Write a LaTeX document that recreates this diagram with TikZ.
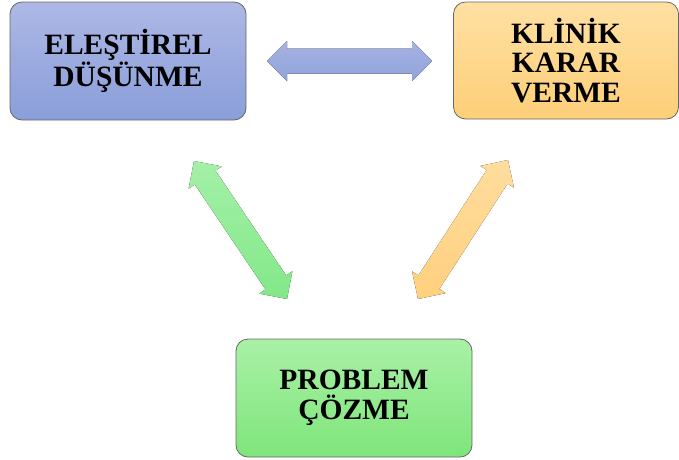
\documentclass[tikz,border=0pt]{standalone}
\usepackage{fontspec}
\setmainfont{Liberation Serif}
\usetikzlibrary{calc}
\definecolor{blueT}{HTML}{ADB8E6}
\definecolor{blueB}{HTML}{8A9ED9}
\definecolor{orT}{HTML}{FFE0A3}
\definecolor{orB}{HTML}{FDCF78}
\definecolor{grT}{HTML}{A9F1A6}
\definecolor{grB}{HTML}{7FE57B}
\definecolor{bdr}{HTML}{666666}
\definecolor{haT}{HTML}{A6B3E2}
\definecolor{haB}{HTML}{90A3DA}
\definecolor{gaT}{HTML}{A4F0A8}
\definecolor{gaB}{HTML}{82E888}
\definecolor{oaT}{HTML}{FFDD9E}
\definecolor{oaB}{HTML}{FFD07E}
\newcommand\blockarrow[3]{%
 \coordinate (#1-h) at ($(#1)!20pt!(#2)$);
 \coordinate (#2-h) at ($(#2)!20pt!(#1)$);
 \fill[#3] (#1) -- ($(#1-h)!20pt!90:(#2)$) -- ($(#1-h)!12.5pt!90:(#2)$)
  -- ($(#2-h)!12.5pt!-90:(#1)$) -- ($(#2-h)!20pt!-90:(#1)$) -- (#2)
  -- ($(#2-h)!20pt!90:(#1)$) -- ($(#2-h)!12.5pt!90:(#1)$)
  -- ($(#1-h)!12.5pt!-90:(#2)$) -- ($(#1-h)!20pt!-90:(#2)$) -- cycle;}
\tikzset{
 box/.style={draw=bdr, line width=0.8pt, rounded corners=12pt, align=center,
   font=\fontsize{29.5}{29.5}\selectfont\bfseries, inner sep=0pt},
}
\begin{document}
\begin{tikzpicture}[x=1pt,y=-1pt]
\useasboundingbox (0,0) rectangle (679,459);
\node[box, top color=blueT, bottom color=blueB, minimum width=236pt, minimum height=118pt] (ed) at (128,61) {ELEŞTİREL\\DÜŞÜNME};
\node[box, top color=orT, bottom color=orB, minimum width=225pt, minimum height=117pt] (kk) at (566,60.5) {KLİNİK\\KARAR\\VERME};
\node[box, top color=grT, bottom color=grB, minimum width=236pt, minimum height=118pt] (pc) at (354,398) {PROBLEM\\ÇÖZME};
\coordinate (h1) at (267,61);
\coordinate (h2) at (432,61);
\coordinate (g1) at (194,161);
\coordinate (g2) at (287,299);
\coordinate (o1) at (508,160);
\coordinate (o2) at (418,299);
\blockarrow{h1}{h2}{top color=haT, bottom color=haB}
\blockarrow{g1}{g2}{top color=gaT, bottom color=gaB}
\blockarrow{o1}{o2}{top color=oaT, bottom color=oaB}
\end{tikzpicture}
\end{document}
